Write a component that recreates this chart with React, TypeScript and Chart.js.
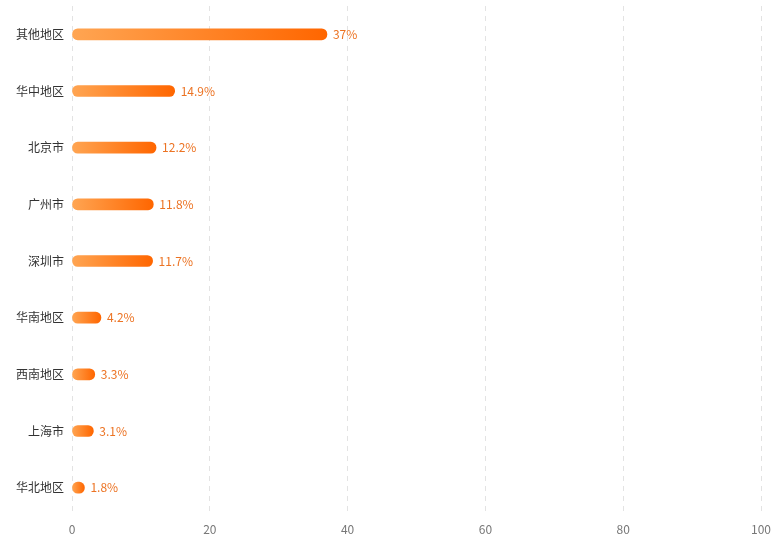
import React, { useEffect, useRef } from "react";
import { Chart, registerables } from "chart.js";

Chart.register(...registerables);

const categories = ["其他地区", "华中地区", "北京市", "广州市", "深圳市", "华南地区", "西南地区", "上海市", "华北地区"];
const values = [37, 14.9, 12.2, 11.8, 11.7, 4.2, 3.3, 3.1, 1.8];
const labels = ["37%", "14.9%", "12.2%", "11.8%", "11.7%", "4.2%", "3.3%", "3.1%", "1.8%"];
const xTicks = [0, 20, 40, 60, 80, 100];

const FONT = '"Noto Sans CJK SC", "Noto Sans", sans-serif';

const valueLabelPlugin = {
  id: "valueLabels",
  afterDatasetsDraw(chart: any) {
    const ctx = chart.ctx;
    const meta = chart.getDatasetMeta(0);
    ctx.save();
    ctx.font = `12px ${FONT}`;
    ctx.fillStyle = "#EC7323";
    ctx.textAlign = "left";
    ctx.textBaseline = "middle";
    meta.data.forEach((el: any, i: number) => {
      ctx.fillText(labels[i], el.x + 6, el.y);
    });
    ctx.restore();
  },
};

export default function App() {
  const ref = useRef<HTMLCanvasElement>(null);
  useEffect(() => {
    document.body.style.margin = "0";
    const canvas = ref.current!;
    const chart = new Chart(canvas, {
      type: "bar",
      data: {
        labels: categories,
        datasets: [
          {
            data: values,
            barThickness: 11,
            borderRadius: 5.5,
            borderSkipped: false,
            backgroundColor: (c: any) => {
              const ch = c.chart;
              const { chartArea, scales } = ch;
              if (!chartArea || c.type !== "data" || !scales.x) return "#FF8A30";
              const x0 = scales.x.getPixelForValue(0);
              const x1 = scales.x.getPixelForValue(c.raw);
              const g = ch.ctx.createLinearGradient(x0, 0, Math.max(x1, x0 + 1), 0);
              g.addColorStop(0, "#FFA552");
              g.addColorStop(1, "#FF6600");
              return g;
            },
          },
        ],
      },
      options: {
        indexAxis: "y",
        animation: false,
        responsive: false,
        maintainAspectRatio: false,
        layout: { padding: { top: 6, right: 19, left: 0, bottom: 0 } },
        plugins: { legend: { display: false }, tooltip: { enabled: false } },
        scales: {
          x: {
            min: 0,
            max: 100,
            afterBuildTicks: (s: any) => {
              s.ticks = xTicks.map((v) => ({ value: v }));
            },
            grid: { color: "#E3E3E3", drawTicks: false, lineWidth: 1 },
            border: { display: false, dash: [5, 5] },
            ticks: { color: "#777", font: { size: 12, family: FONT }, padding: 6 },
            afterFit: (s: any) => {
              s.height = 29;
              s.paddingLeft = 0;
              s.paddingRight = 0;
            },
          },
          y: {
            grid: { display: false, drawTicks: false },
            border: { display: false },
            ticks: { color: "#333", font: { size: 12, family: FONT }, padding: 8 },
            afterFit: (s: any) => {
              s.width = 72;
              s.paddingTop = 0;
              s.paddingBottom = 0;
            },
          },
        },
      },
      plugins: [valueLabelPlugin],
    } as any);
    return () => chart.destroy();
  }, []);
  return (
    <div style={{ width: 780, height: 545, background: "#fff" }}>
      <canvas ref={ref} width={780} height={545} style={{ display: "block" }} />
    </div>
  );
}
